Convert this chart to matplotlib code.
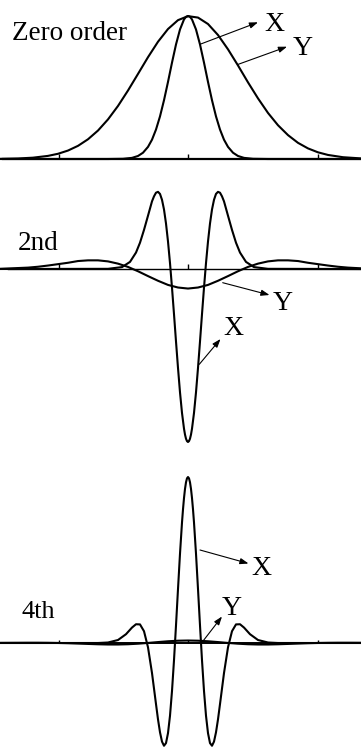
import matplotlib
matplotlib.use("Agg")
import matplotlib.pyplot as plt

# ---------------- data (x in arbitrary position units, centre = 0) ----------------
# Zero order
zero_x_pos = [-18.8, -8.0, -6.5, -5.6, -5.0, -4.5, -4.0, -3.6, -3.2, -2.8, -2.4, -2.0, -1.6, -1.2,
              -0.8, -0.4, -0.2, 0.0, 0.2, 0.4, 0.8, 1.2, 1.6, 2.0, 2.4, 2.8, 3.2, 3.6, 4.0, 4.5,
              5.0, 5.6, 6.5, 8.0, 17.3]
zero_x_val = [0.0, 0.0, 0.0015, 0.0079, 0.0211, 0.0439, 0.0847, 0.135, 0.206, 0.298, 0.411, 0.539,
              0.674, 0.801, 0.906, 0.976, 0.994, 1.0, 0.994, 0.976, 0.906, 0.801, 0.674, 0.539,
              0.411, 0.298, 0.206, 0.135, 0.0847, 0.0439, 0.0211, 0.0079, 0.0015, 0.0, 0.0]

zero_y_pos = [-18.8, -17, -15.5, -14, -13, -12, -11, -10, -9, -8, -7, -6, -5, -4, -3, -2, -1, 0,
              1, 2, 3, 4, 5, 6, 7, 8, 9, 10, 11, 12, 13, 14, 15.5, 17.3]
zero_y_val = [0.0011, 0.0037, 0.0093, 0.0218, 0.0365, 0.0591, 0.092, 0.138, 0.199, 0.277, 0.371,
              0.479, 0.595, 0.712, 0.820, 0.909, 0.971, 0.999, 0.989, 0.944, 0.867, 0.767, 0.654,
              0.536, 0.424, 0.322, 0.236, 0.167, 0.113, 0.0741, 0.0467, 0.0283, 0.0125, 0.0042]

# 2nd order
second_x_pos = [-18.8, -8.0, -6.6, -5.8, -5.2, -4.8, -4.4, -4.0, -3.6, -3.4, -3.2, -3.0, -2.8, -2.6,
                -2.4, -2.2, -2.0, -1.8, -1.6, -1.4, -1.2, -1.0, -0.8, -0.6, -0.4, -0.3, -0.2, -0.1,
                0.0,
                0.1, 0.2, 0.3, 0.4, 0.6, 0.8, 1.0, 1.2, 1.4, 1.6, 1.8, 2.0, 2.2, 2.4, 2.6, 2.8,
                3.0, 3.2, 3.4, 3.6, 4.0, 4.4, 4.8, 5.2, 5.8, 6.6, 8.0, 17.3]
second_x_val = [0.0, 0.001, 0.011, 0.041, 0.095, 0.152, 0.226, 0.308, 0.391, 0.420, 0.441, 0.446,
                0.434, 0.400, 0.344, 0.263, 0.159, 0.034, -0.108, -0.261, -0.419, -0.572, -0.713,
                -0.832, -0.923, -0.957, -0.981, -0.995,
                -1.0,
                -0.995, -0.981, -0.957, -0.923, -0.832, -0.713, -0.572, -0.419, -0.261, -0.108,
                0.034, 0.159, 0.263, 0.344, 0.400, 0.434, 0.446, 0.441, 0.420, 0.391, 0.308,
                0.226, 0.152, 0.095, 0.041, 0.011, 0.001, 0.0]

second_y_pos = [-18.8, -16, -15, -14, -13, -12, -11, -10, -9, -8, -7, -6, -5, -4, -3, -2, -1, 0,
                1, 2, 3, 4, 5, 6, 7, 8, 9, 10, 11, 12, 13, 14, 15, 16, 17.3]
second_y_val = [0.001, 0.008, 0.013, 0.020, 0.028, 0.036, 0.046, 0.050, 0.050, 0.044, 0.031, 0.012,
                -0.013, -0.041, -0.068, -0.092, -0.107, -0.113, -0.107, -0.092, -0.068, -0.041,
                -0.013, 0.012, 0.031, 0.044, 0.050, 0.050, 0.046, 0.036, 0.028, 0.020, 0.013,
                0.008, 0.004]

# 4th order
fourth_x_pos = [-18.8, -9.0, -8.0, -7.0, -6.2, -5.6, -5.2, -4.8, -4.4, -4.0, -3.6, -3.2, -3.0, -2.8,
                -2.6, -2.4, -2.2, -2.0, -1.8, -1.6, -1.4, -1.2, -1.0, -0.8, -0.6, -0.5, -0.4, -0.3,
                -0.2, -0.1,
                0.0,
                0.1, 0.2, 0.3, 0.4, 0.5, 0.6, 0.8, 1.0, 1.2, 1.4, 1.6, 1.8, 2.0, 2.2, 2.4, 2.6,
                2.8, 3.0, 3.2, 3.6, 4.0, 4.4, 4.8, 5.2, 5.6, 6.2, 7.0, 8.0, 9.0, 17.3]
fourth_x_val = [0.0, 0.0, 0.003, 0.018, 0.053, 0.093, 0.113, 0.112, 0.071, -0.026, -0.181, -0.368,
                -0.460, -0.538, -0.594, -0.619, -0.603, -0.543, -0.438, -0.289, -0.104, 0.106,
                0.325, 0.538, 0.726, 0.805, 0.873, 0.928, 0.968, 0.992,
                1.0,
                0.992, 0.968, 0.928, 0.873, 0.805, 0.726, 0.538, 0.325, 0.106, -0.104, -0.289,
                -0.438, -0.543, -0.603, -0.619, -0.594, -0.538, -0.460, -0.368, -0.181, -0.026,
                0.071, 0.112, 0.113, 0.093, 0.053, 0.018, 0.003, 0.0, 0.0]

fourth_y_pos = [-18.8, -16, -15, -14, -13, -12, -11, -10, -9, -8, -7, -6, -5, -4, -3, -2, -1, 0,
                1, 2, 3, 4, 5, 6, 7, 8, 9, 10, 11, 12, 13, 14, 15, 16, 17.3]
fourth_y_val = [0.0009, 0.0017, 0.0017, 0.0012, 0.0002, -0.0013, -0.0034, -0.0056, -0.0077,
                -0.0091, -0.0091, -0.0075, -0.0042, 0.0004, 0.0056, 0.0104, 0.0138, 0.015,
                0.0138, 0.0104, 0.0056, 0.0004, -0.0042, -0.0075, -0.0091, -0.0091, -0.0077,
                -0.0056, -0.0034, -0.0013, 0.0002, 0.0012, 0.0017, 0.0017, 0.0014]

panel_labels = ["Zero order", "2nd", "4th"]
tick_positions = [-12.9, 0.0, 13.0]

# ---------------- layout ----------------
W, H = 361, 747
X_LO, X_HI = -18.8, 17.3
fig = plt.figure(figsize=(W / 100, H / 100), dpi=100)
plt.rcParams['font.family'] = ['Liberation Serif', 'DejaVu Serif']

def make_ax(top, bottom, base, scale):
    ax = fig.add_axes([0, 1 - bottom / H, 1, (bottom - top) / H])
    ax.set_xlim(X_LO, X_HI)
    ax.set_ylim(-(bottom - base) / scale, (base - top) / scale)
    ax.axis('off')
    return ax, scale

LW = 1.5
ax0, s0 = make_ax(0, 170, 159, 143)
ax1, s1 = make_ax(170, 450, 269, 173)
ax2, s2 = make_ax(450, 747, 643, 166)

ax0.axhline(0, xmin=3 / W, xmax=1, color='k', lw=1.6)
ax1.axhline(0, xmin=8 / W, xmax=1, color='k', lw=1.0)
ax2.axhline(0, xmin=10 / W, xmax=1, color='k', lw=1.4)

for ax, sc, h in [(ax0, s0, 5), (ax1, s1, 5), (ax2, s2, 3)]:
    ax.vlines(tick_positions, 0, h / sc, color='k', lw=1.0)

ax0.plot(zero_y_pos, zero_y_val, color='k', lw=LW, clip_on=False)
ax0.plot(zero_x_pos, zero_x_val, color='k', lw=LW, clip_on=False)
ax1.plot(second_y_pos, second_y_val, color='k', lw=LW, clip_on=False)
ax1.plot(second_x_pos, second_x_val, color='k', lw=LW, clip_on=False)
ax2.plot(fourth_y_pos, fourth_y_val, color='k', lw=LW, clip_on=False)
ax2.plot(fourth_x_pos, fourth_x_val, color='k', lw=LW, clip_on=False)

def ftext(x, y, s, size, ha='left'):
    fig.text(x / W, 1 - y / H, s, fontsize=size, ha=ha, va='baseline', color='k')

def farrow(tail, head):
    ax0.annotate('', xy=(head[0], H - head[1]), xycoords='figure pixels',
                 xytext=(tail[0], H - tail[1]), textcoords='figure pixels',
                 arrowprops=dict(arrowstyle='-|>,head_length=0.5,head_width=0.18',
                                 mutation_scale=10, lw=0.8, color='k',
                                 shrinkA=0, shrinkB=0))

ftext(12.5, 40, panel_labels[0], 19.5)
ftext(18.0, 250, panel_labels[1], 19.5)
ftext(21.5, 618, panel_labels[2], 19)

# top
ftext(274.3, 31, "X", 20, ha='center')
ftext(302.7, 55, "Y", 20, ha='center')
farrow((200, 44.3), (258, 22.3))
farrow((238.3, 64.3), (287, 46.7))
# middle
ftext(283, 310, "Y", 20, ha='center')
ftext(233, 335, "X", 20, ha='center')
farrow((222.7, 282.7), (269.5, 295))
farrow((199.3, 364.3), (220.5, 339))
# bottom
ftext(261.7, 575, "X", 20, ha='center')
ftext(231.7, 615, "Y", 20, ha='center')
farrow((200, 550), (248.5, 563.5))
farrow((203.3, 640.7), (222, 616.5))

fig.savefig("out.png", dpi=100)
